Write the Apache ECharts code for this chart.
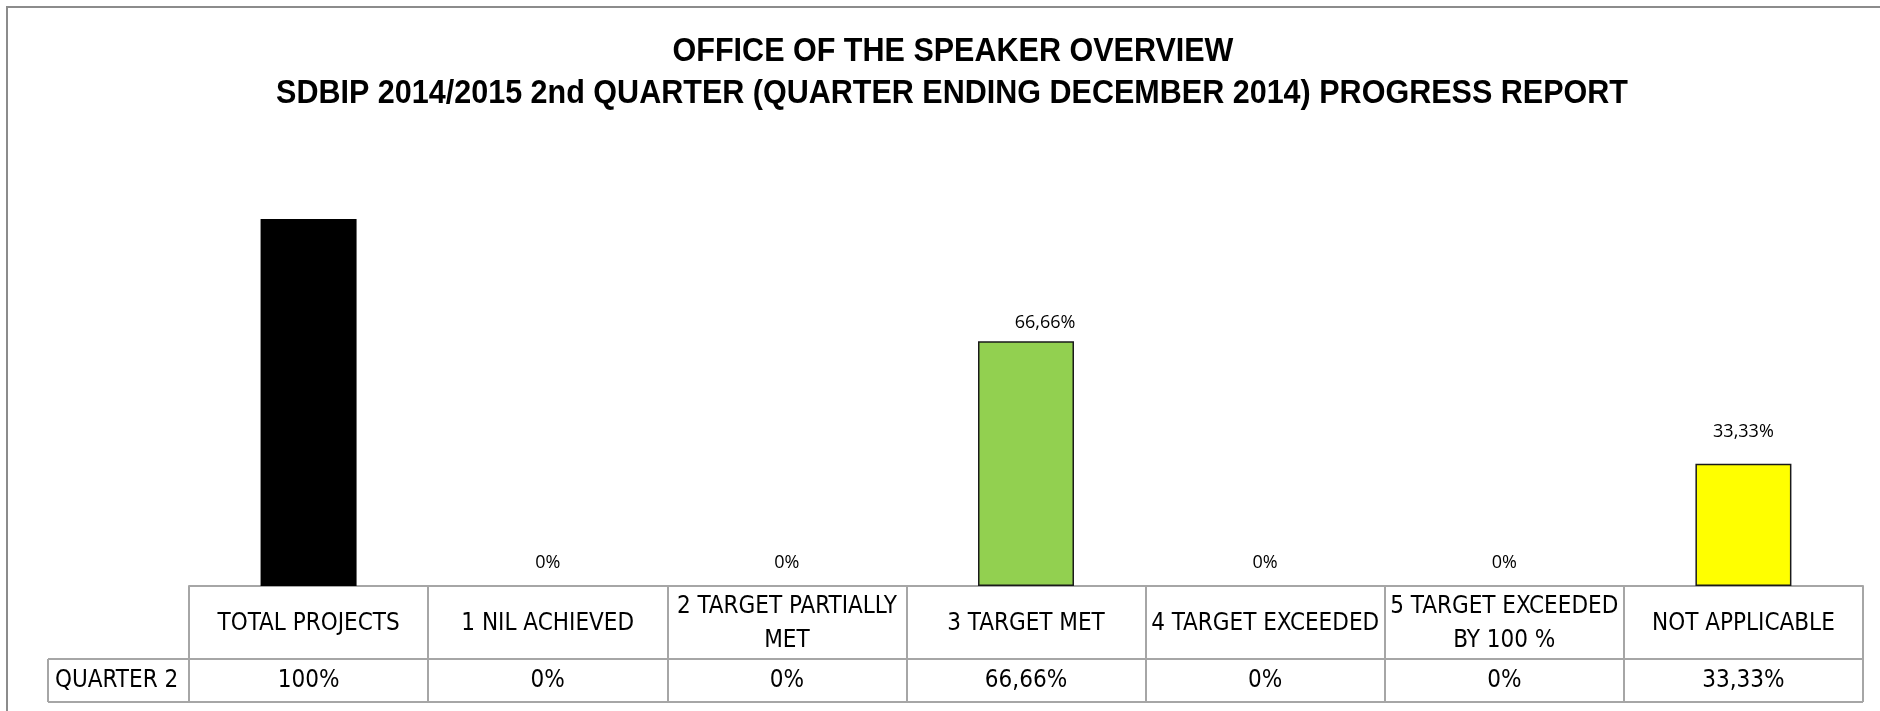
<!DOCTYPE html>
<html>
<head>
<meta charset="utf-8">
<script src="https://cdn.jsdelivr.net/npm/echarts@6/dist/echarts.min.js"></script>
<style>html,body{margin:0;padding:0;background:#fff;}#c{width:1880px;height:711px;}</style>
</head>
<body>
<div id="c"></div>
<script>
const titleLines = ['OFFICE OF THE SPEAKER OVERVIEW', 'SDBIP 2014/2015 2nd QUARTER (QUARTER ENDING DECEMBER 2014) PROGRESS REPORT'];
const categories = ['TOTAL PROJECTS', '1 NIL ACHIEVED', '2 TARGET PARTIALLY\nMET', '3 TARGET MET', '4 TARGET EXCEEDED', '5 TARGET EXCEEDED\nBY 100 %', 'NOT APPLICABLE'];
const seriesName = 'QUARTER 2';
const values = [1, 0, 0, 0.6666, 0, 0, 0.3333];
const barColors = ['#000000', '#92D050', '#92D050', '#92D050', '#92D050', '#92D050', '#FFFF00'];

const fmt = v => { const p = v * 100; return (Math.abs(p - Math.round(p)) < 1e-9 ? String(Math.round(p)) : p.toFixed(2).replace('.', ',')) + '%'; };

const tableFont = '"Liberation Sans Narrow", "DejaVu Sans Condensed", "Liberation Sans", sans-serif';
const labelFont = '"Open Sans", "Liberation Sans", sans-serif';
const gridL = 189, gridR = 17, gridT = 219, gridB = 125;
const lineCol = '#a6a6a6';

const labelTweaks = [
  null,
  { distance: 14 }, { distance: 14 },
  { distance: 9, offset: [19, 0] },
  { distance: 14 }, { distance: 14 },
  { distance: 23 }
];

const chart = echarts.init(document.getElementById('c'), null, { renderer: 'canvas' });
chart.setOption({
  backgroundColor: '#ffffff',
  animation: false,
  grid: { left: gridL, right: gridR, top: gridT, bottom: gridB, containLabel: false },
  xAxis: [{
    type: 'category', data: categories, position: 'bottom',
    axisLine: { show: true, lineStyle: { color: lineCol, width: 2 } },
    axisTick: { show: true, alignWithLabel: false, length: 116, inside: false, lineStyle: { color: lineCol, width: 2 } },
    axisLabel: { interval: 0, margin: 38, verticalAlign: 'middle', fontFamily: tableFont, fontSize: 24, lineHeight: 34, color: '#000' }
  }, {
    type: 'category', data: categories, position: 'bottom',
    axisLine: { show: false }, axisTick: { show: false },
    axisLabel: { interval: 0, margin: 95, verticalAlign: 'middle', fontFamily: tableFont, fontSize: 24, color: '#000', formatter: (v, i) => fmt(values[i]) }
  }],
  yAxis: { type: 'value', min: 0, max: 1, show: false, splitLine: { show: false } },
  series: [{
    name: seriesName, type: 'bar', barWidth: 96,
    data: values.map((v, i) => ({
      value: v,
      itemStyle: { color: barColors[i], borderColor: '#1a1a1a', borderWidth: (i === 0 || v === 0) ? 0 : 1.5 },
      label: labelTweaks[i] ? Object.assign({ show: true }, labelTweaks[i]) : { show: false }
    })),
    label: { show: true, position: 'top', fontFamily: labelFont, fontSize: 18, color: '#000', formatter: p => fmt(p.value) }
  }],
  graphic: [
    { type: 'rect', shape: { x: 7, y: 7, width: 1900, height: 800 }, style: { fill: 'none', stroke: '#8c8c8c', lineWidth: 2 }, silent: true },
    { type: 'text', x: 953, y: 52, scaleX: 0.925, originX: 0, originY: 0, style: { text: titleLines[0], fontFamily: '"Liberation Sans", Arial, sans-serif', fontWeight: 'bold', fontSize: 33, fill: '#000', align: 'center', verticalAlign: 'middle' } },
    { type: 'text', x: 952, y: 94, scaleX: 0.925, originX: 0, originY: 0, style: { text: titleLines[1], fontFamily: '"Liberation Sans", Arial, sans-serif', fontWeight: 'bold', fontSize: 33, fill: '#000', align: 'center', verticalAlign: 'middle' } },
    { type: 'line', shape: { x1: 48, y1: 659, x2: 1863, y2: 659 }, style: { stroke: lineCol, lineWidth: 2 } },
    { type: 'line', shape: { x1: 48, y1: 702, x2: 1863, y2: 702 }, style: { stroke: lineCol, lineWidth: 2 } },
    { type: 'line', shape: { x1: 48, y1: 659, x2: 48, y2: 702 }, style: { stroke: lineCol, lineWidth: 2 } },
    { type: 'text', x: 55, y: 681, style: { text: seriesName, fontFamily: tableFont, fontSize: 24, fill: '#000', verticalAlign: 'middle', align: 'left' } }
  ]
});
</script>
</body>
</html>
